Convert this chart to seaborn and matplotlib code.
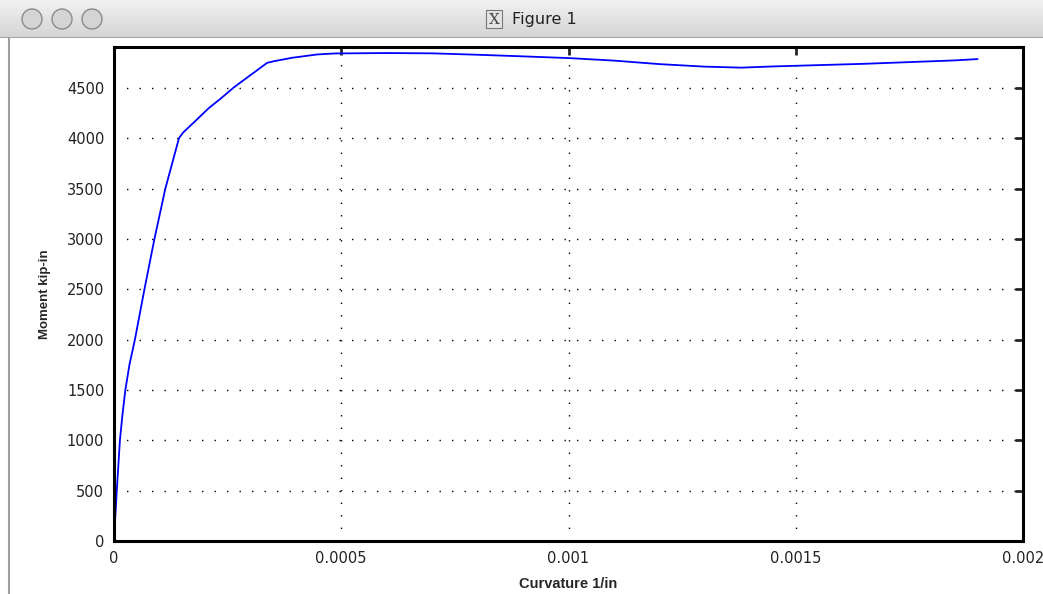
import numpy as np
import pandas as pd
import matplotlib
matplotlib.use("Agg")
import matplotlib.pyplot as plt
from matplotlib.patches import Circle, Rectangle
import seaborn as sns

# ---- data ----
curvature = [0.0, 3e-6, 6e-6, 1.3e-5, 1.85e-5, 2.5e-5, 3.4e-5, 4.6e-5, 6.7e-5, 8.9e-5,
             1.13e-4, 1.43e-4, 1.52e-4, 1.80e-4, 2.09e-4, 2.34e-4, 2.64e-4, 2.97e-4,
             3.37e-4, 3.52e-4, 3.92e-4, 4.47e-4, 4.87e-4, 6.0e-4, 7.0e-4, 8.0e-4,
             9.0e-4, 1.0e-3, 1.1e-3, 1.2e-3, 1.3e-3, 1.38e-3, 1.45e-3, 1.55e-3,
             1.65e-3, 1.75e-3, 1.85e-3, 1.9e-3]
moment = [60, 250, 490, 1000, 1250, 1500, 1750, 2000, 2500, 3000,
          3500, 4000, 4055, 4175, 4300, 4390, 4505, 4615,
          4748, 4764, 4798, 4831, 4841, 4845, 4842, 4828,
          4812, 4795, 4770, 4735, 4710, 4700, 4712, 4725,
          4738, 4755, 4772, 4785]
x_ticks = [0, 0.0005, 0.001, 0.0015, 0.002]
x_tick_labels = ["0", "0.0005", "0.001", "0.0015", "0.002"]
y_ticks = [0, 500, 1000, 1500, 2000, 2500, 3000, 3500, 4000, 4500]
y_tick_labels = [str(v) for v in y_ticks]
x_label = "Curvature 1/in"
y_label = "Moment kip-in"
window_title = "Figure 1"

df = pd.DataFrame({"curvature": curvature, "moment": moment})

sns.set_style("white")
plt.rcParams["font.family"] = ["DejaVu Sans"]

W, H = 1043, 594
fig = plt.figure(figsize=(W / 100, H / 100), dpi=100)
fig.patch.set_facecolor("white")

# ---- window title bar ----
bar_h = 38
tb = fig.add_axes([0, 1 - bar_h / H, 1, bar_h / H])
grad = np.linspace(0.95, 0.83, 50).reshape(-1, 1)
tb.imshow(np.dstack([grad, grad, grad]), aspect="auto", extent=[0, W, bar_h, 0])
tb.set_xlim(0, W)
tb.set_ylim(bar_h, 0)
tb.axis("off")
for cx in (32, 62, 92):
    tb.add_patch(Circle((cx, 19), 10, facecolor="#d4d4d4", edgecolor="#8a8a8a", lw=1))
tb.add_patch(Rectangle((486, 10), 16, 18, facecolor="#e4e4e4", edgecolor="#777777", lw=0.8))
tb.text(494, 19.5, "X", ha="center", va="center", fontsize=11, color="#444444",
        family="DejaVu Serif")
tb.text(512, 19.5, window_title, ha="left", va="center", fontsize=11.5, color="#222222")
tb.axhline(bar_h - 0.5, color="#9a9a9a", lw=1.2)

# left window edge line
fig.add_artist(plt.Line2D([9 / W, 9 / W], [0, 1 - bar_h / H], color="#a0a0a0", lw=1.5))

# ---- main axes ----
ax = fig.add_axes([114 / W, 1 - 541 / H, (1023 - 114) / W, (541 - 47) / H])
sns.lineplot(data=df, x="curvature", y="moment", ax=ax, color="#0000ff",
             lw=1.3, sort=False, estimator=None)

ax.set_xlim(0, 0.002)
ax.set_ylim(0, 4905)
ax.set_xticks(x_ticks)
ax.set_xticklabels(x_tick_labels)
ax.set_yticks(y_ticks)
ax.set_yticklabels(y_tick_labels)

ax.grid(True, color="black", linestyle=(0, (1, 8)), lw=1.0)
for s in ax.spines.values():
    s.set_visible(True)
    s.set_color("black")
    s.set_linewidth(2.2)

ax.tick_params(direction="in", length=6, width=2, top=True, right=True,
               labelsize=10.5, labelcolor="#222222", pad=7)

ax.set_xlabel(x_label, fontsize=10.5, fontweight="bold", labelpad=8,
              family="Liberation Sans")
ax.set_ylabel(y_label, fontsize=9.5, fontweight="bold", labelpad=11,
              family="Liberation Sans")

fig.savefig("out.png", dpi=100)
